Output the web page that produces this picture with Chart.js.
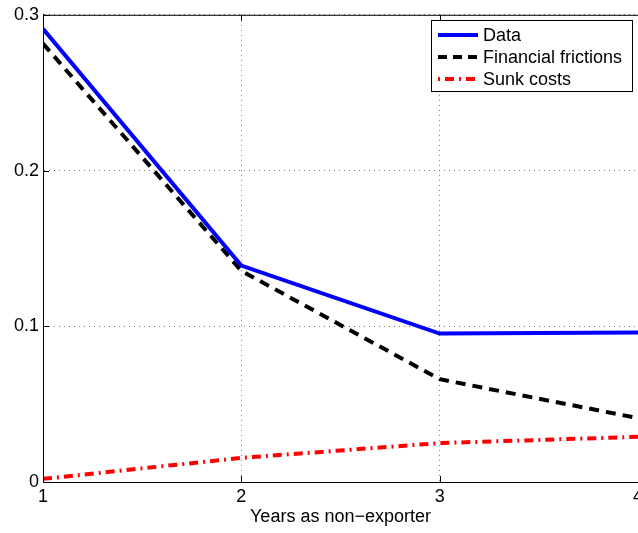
<!DOCTYPE html>
<html lang="en">
<head>
    <meta charset="UTF-8">
    <title>Years as non-exporter</title>
    <style>
        html, body {
            margin: 0;
            padding: 0;
            background: #ffffff;
            overflow: hidden;
        }
        #wrap {
            position: relative;
            width: 660px;
            height: 533px;
        }
    </style>
</head>
<body>
    <div id="wrap">
        <canvas id="chart" width="660" height="533"></canvas>
    </div>

    <script src="https://cdn.jsdelivr.net/npm/chart.js"></script>
    <script>
        // data
        const years = [1, 2, 3, 4];
        const dataSeries = [0.291, 0.139, 0.0953, 0.096];
        const financialFrictions = [0.2815, 0.1356, 0.066, 0.041];
        const sunkCosts = [0.002, 0.0155, 0.025, 0.029];
        const yTicks = [0, 0.1, 0.2, 0.3];
        const xTitle = 'Years as non\u2212exporter';

        const FONT = 'Arial, "Liberation Sans", Helvetica, sans-serif';

        function pts(vals) {
            return years.map((x, i) => ({ x: x, y: vals[i] }));
        }

        // box, inner tick marks and legend, MATLAB style
        const matlabAxes = {
            id: 'matlabAxes',
            afterDraw(chart) {
                const ctx = chart.ctx;
                const a = chart.chartArea;
                const xs = chart.scales.x;
                const ys = chart.scales.y;
                ctx.save();
                ctx.strokeStyle = '#000';
                ctx.lineWidth = 1;
                ctx.beginPath();
                ctx.moveTo(a.left, a.top + 0.5);
                ctx.lineTo(a.right, a.top + 0.5);
                ctx.stroke();

                // inner ticks
                ctx.beginPath();
                years.forEach(v => {
                    const px = Math.round(xs.getPixelForValue(v)) + 0.5;
                    ctx.moveTo(px, a.bottom);
                    ctx.lineTo(px, a.bottom - 6);
                    ctx.moveTo(px, a.top);
                    ctx.lineTo(px, a.top + 6);
                });
                yTicks.forEach(v => {
                    const py = Math.round(ys.getPixelForValue(v)) + 0.5;
                    ctx.moveTo(a.left, py);
                    ctx.lineTo(a.left + 6, py);
                });
                ctx.stroke();

                // legend
                const lx = 431, ly = 20, lw = 201, lh = 71;
                ctx.fillStyle = '#fff';
                ctx.fillRect(lx, ly, lw, lh);
                ctx.strokeStyle = '#000';
                ctx.lineWidth = 1;
                ctx.strokeRect(lx + 0.5, ly + 0.5, lw, lh);
                ctx.font = '18px ' + FONT;
                ctx.textBaseline = 'middle';
                const rows = [35, 57, 79];
                chart.data.datasets.forEach((ds, i) => {
                    const y = rows[i];
                    ctx.beginPath();
                    ctx.strokeStyle = ds.borderColor;
                    ctx.lineWidth = ds.borderWidth;
                    ctx.setLineDash(ds.legendDash || []);
                    ctx.moveTo(438, y);
                    ctx.lineTo(478, y);
                    ctx.stroke();
                    ctx.setLineDash([]);
                    ctx.fillStyle = '#000';
                    ctx.fillText(ds.label, 483, y + 1);
                });
                ctx.restore();
            }
        };

        const gridOpts = {
            color: '#777',
            lineWidth: 1,
            drawTicks: false,
            tickLength: 0
        };

        const ctx = document.getElementById('chart').getContext('2d');
        new Chart(ctx, {
            type: 'line',
            data: {
                datasets: [
                    {
                        label: 'Data',
                        data: pts(dataSeries),
                        borderColor: '#0000ff',
                        borderWidth: 4,
                        pointRadius: 0,
                        fill: false
                    },
                    {
                        label: 'Financial frictions',
                        data: pts(financialFrictions),
                        borderColor: '#000000',
                        borderWidth: 4,
                        borderDash: [10, 7],
                        legendDash: [9, 6],
                        pointRadius: 0,
                        fill: false
                    },
                    {
                        label: 'Sunk costs',
                        data: pts(sunkCosts),
                        borderColor: '#ff0000',
                        borderWidth: 4,
                        borderDash: [9, 5, 2, 5],
                        legendDash: [2, 5, 9, 5],
                        pointRadius: 0,
                        fill: false
                    }
                ]
            },
            options: {
                responsive: false,
                animation: false,
                layout: { padding: { left: 0, top: 13, right: 22, bottom: 0 } },
                plugins: {
                    legend: { display: false },
                    tooltip: { enabled: false }
                },
                scales: {
                    x: {
                        type: 'linear',
                        min: 1,
                        max: 4,
                        afterFit: s => { s.height = 51; },
                        afterBuildTicks: s => { s.ticks = years.map(v => ({ value: v })); },
                        ticks: {
                            color: '#000',
                            font: { family: FONT, size: 18 },
                            padding: 4,
                            maxRotation: 0,
                            callback: v => String(v)
                        },
                        grid: gridOpts,
                        border: { display: true, color: '#000', width: 1, dash: [1, 4] },
                        title: {
                            display: true,
                            text: xTitle,
                            color: '#000',
                            font: { family: FONT, size: 18 },
                            padding: { top: 0, bottom: 5 }
                        }
                    },
                    y: {
                        type: 'linear',
                        min: 0,
                        max: 0.3,
                        afterFit: s => { s.width = 43; },
                        afterBuildTicks: s => { s.ticks = yTicks.map(v => ({ value: v })); },
                        ticks: {
                            color: '#000',
                            font: { family: FONT, size: 18 },
                            padding: 4,
                            callback: v => String(Number(v.toFixed(1)))
                        },
                        grid: gridOpts,
                        border: { display: true, color: '#000', width: 1, dash: [1, 4] }
                    }
                }
            },
            plugins: [matlabAxes]
        });
    </script>
</body>
</html>
